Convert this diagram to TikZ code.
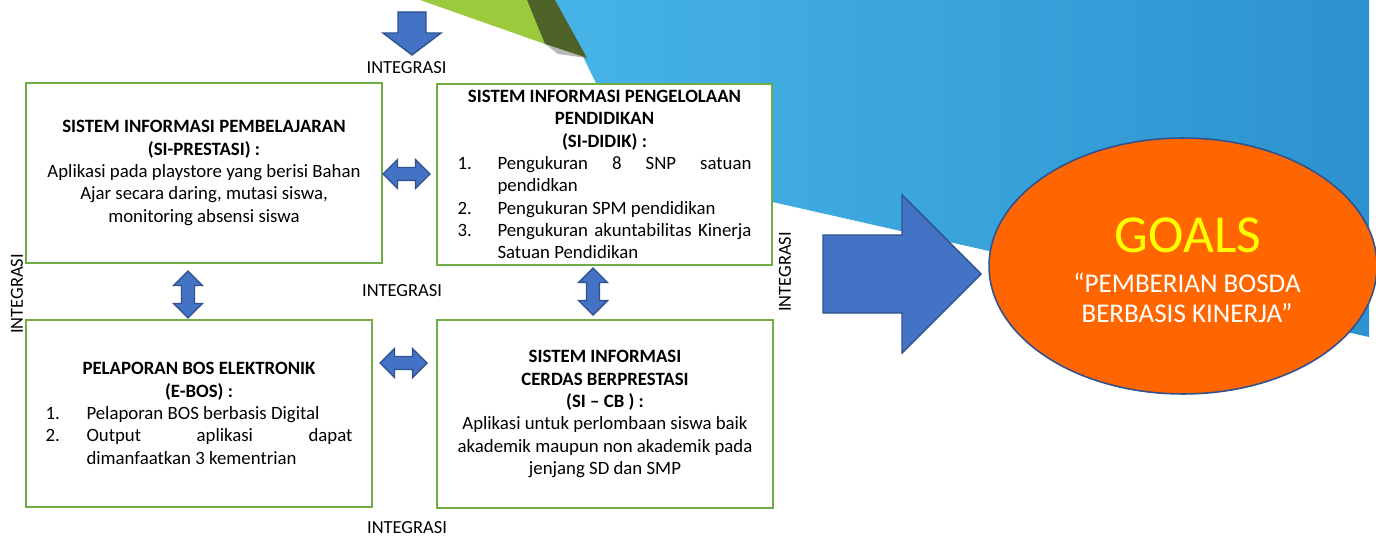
\documentclass[tikz,border=0pt]{standalone}
\usepackage{fontspec}
\setmainfont{Carlito}
\usepackage{xcolor}
\usetikzlibrary{calc,shapes.geometric}
\definecolor{skyblue}{RGB}{70,180,230}
\definecolor{deepsky}{RGB}{44,146,208}
\definecolor{leafgreen}{RGB}{155,203,60}
\definecolor{olivegreen}{RGB}{79,98,40}
\definecolor{boxgreen}{RGB}{112,173,71}
\definecolor{arrowblue}{RGB}{68,114,196}
\definecolor{arrowline}{RGB}{47,82,143}
\definecolor{goalorange}{RGB}{255,102,0}
\definecolor{goalyellow}{RGB}{255,255,0}

\begin{document}
\begin{tikzpicture}[x=0.02cm,y=-0.02cm,
    infobox/.style={draw=boxgreen,line width=1.4pt,fill=white,align=center,inner sep=0pt,
        font=\fontsize{10.7}{12.7}\selectfont},
    blockarrow/.style={fill=arrowblue,draw=arrowline,line width=0.8pt},
    integ/.style={font=\fontsize{10.5}{12}\selectfont,inner sep=0pt}]
    \useasboundingbox (0,0) rectangle (1376,537);
    % background
    \shade[left color=skyblue,right color=deepsky] (555,0) -- (1369,0) -- (1369,337) -- (640,172) -- cycle;
    \fill[leafgreen] (420,0) -- (527,0) -- (545,44) -- cycle;
    \fill[gray!55] (545,44) -- (587,58) -- (558,54) -- cycle;
    \fill[olivegreen] (527,0) -- (555,0) -- (587,58) -- (545,44) -- cycle;

    \node[infobox,minimum width=7.12cm,minimum height=3.6cm] (pembelajaran) at (204,173)
        {\textbf{SISTEM INFORMASI PEMBELAJARAN}\\ \textbf{(SI-PRESTASI) :}\\
         Aplikasi pada playstore yang berisi Bahan\\ Ajar secara daring, mutasi siswa,\\
         monitoring absensi siswa};
    \node[infobox,minimum width=6.7cm,minimum height=3.62cm] (pengelolaan) at (604.5,174.5)
        {\textbf{SISTEM INFORMASI PENGELOLAAN}\\ \textbf{PENDIDIKAN}\\ \textbf{(SI-DIDIK) :}\\
         \makebox[5.88cm][l]{\makebox[0.8cm][l]{1.}\makebox[5.08cm][s]{Pengukuran 8 SNP satuan}}\\
         \makebox[5.88cm][l]{\hspace{0.8cm}pendidkan}\\
         \makebox[5.88cm][l]{\makebox[0.8cm][l]{2.}Pengukuran SPM pendidikan}\\
         \makebox[5.88cm][l]{\makebox[0.8cm][l]{3.}\makebox[5.08cm][s]{Pengukuran akuntabilitas Kinerja}}\\
         \makebox[5.88cm][l]{\hspace{0.8cm}Satuan Pendidikan}};
    \node[infobox,minimum width=6.92cm,minimum height=3.74cm] (pelaporan) at (199,413.5)
        {\textbf{PELAPORAN BOS ELEKTRONIK}\\ \textbf{(E-BOS) :}\\
         \makebox[6.14cm][l]{\makebox[0.82cm][l]{1.}Pelaporan BOS berbasis Digital}\\
         \makebox[6.14cm][l]{\makebox[0.82cm][l]{2.}\makebox[5.32cm][s]{Output aplikasi dapat}}\\
         \makebox[6.14cm][l]{\hspace{0.82cm}dimanfaatkan 3 kementrian}};
    \node[infobox,minimum width=6.72cm,minimum height=3.76cm] (cerdas) at (605,414)
        {\textbf{SISTEM INFORMASI}\\ \textbf{CERDAS BERPRESTASI}\\ \textbf{(SI -- CB ) :}\\
         Aplikasi untuk perlombaan siswa baik\\ akademik maupun non akademik pada\\
         jenjang SD dan SMP};

    % double arrows between the boxes
    \coordinate (a12) at (406.5,174);
    \coordinate (a34) at (403.5,363);
    \coordinate (a13) at (188,294.5);
    \coordinate (a24) at (593,291.5);
    \foreach \c/\r in {a12/0,a34/0,a13/90,a24/90}
        \draw[blockarrow,shift={(\c)},rotate=\r] (-23.5,0) -- (-9,-14.5) -- (-9,-6.5) -- (9,-6.5)
            -- (9,-14.5) -- (23.5,0) -- (9,14.5) -- (9,6.5) -- (-9,6.5) -- (-9,14.5) -- cycle;
    \coordinate (downtip) at (412,55);
    \draw[blockarrow] (398,12) -- (426,12) -- (426,33) -- (441,33) -- (downtip) -- (383,33) -- (398,33) -- cycle;

    \node[integ] (integtop) at (406.5,68) {INTEGRASI};
    \node[integ] (integmid) at (402,291) {INTEGRASI};
    \node[integ] (integbot) at (407,528) {INTEGRASI};
    \node[integ,rotate=90] (integleft) at (17,294) {INTEGRASI};
    \node[integ,rotate=90] (integright) at (785,272) {INTEGRASI};

    % goal
    \draw[blockarrow] (823,235) -- (902,235) -- (902,195) -- (981,274) -- (902,353) -- (902,313) -- (823,313) -- cycle;
    \node[ellipse,draw=arrowline,fill=goalorange,line width=0.9pt,inner sep=0pt,
        minimum width=7.76cm,minimum height=5.12cm] (goal) at (1183,266) {};
    \node[text=goalyellow,font=\fontsize{30.4}{31}\selectfont,inner sep=0pt] (goaltitle) at (1188,235) {GOALS};
    \node[text=white,align=center,inner sep=0pt,font=\fontsize{15.4}{16.9}\selectfont] (goaltext) at (1187,297.5)
        {“PEMBERIAN BOSDA\\ BERBASIS KINERJA”};
\end{tikzpicture}
\end{document}
